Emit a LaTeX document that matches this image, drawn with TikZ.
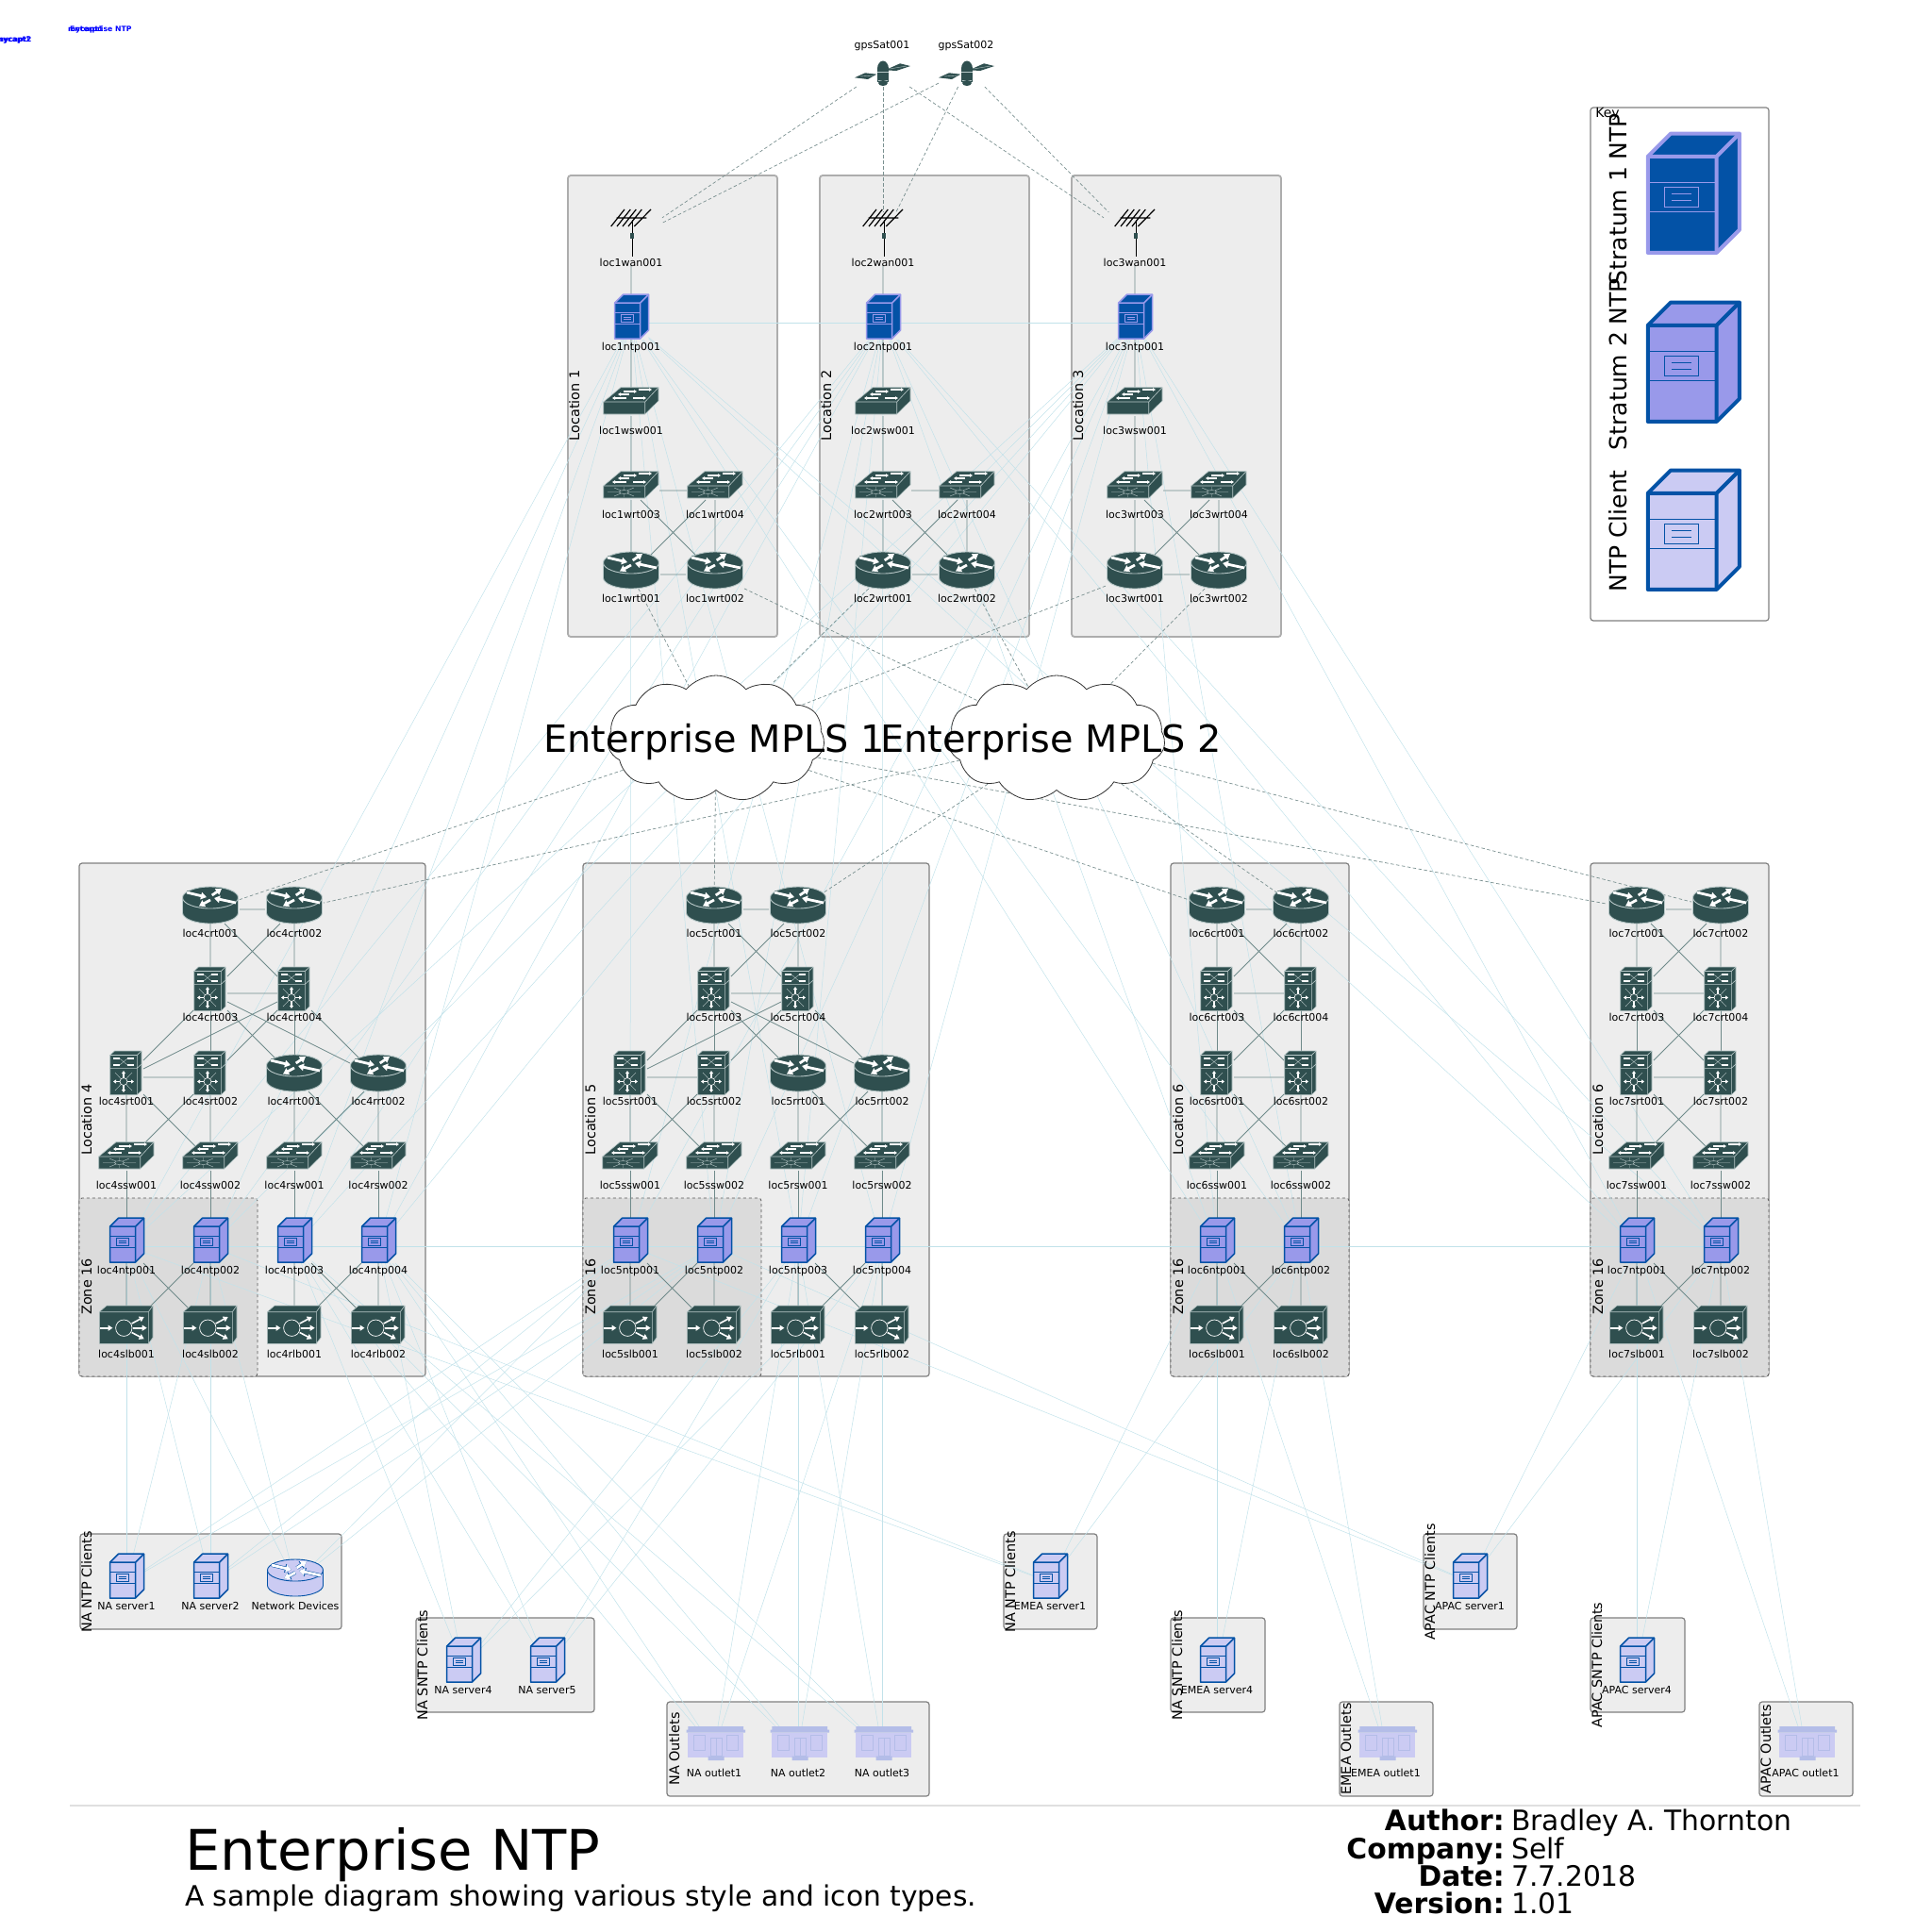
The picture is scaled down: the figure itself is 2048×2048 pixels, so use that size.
\documentclass[tikz,border=0pt]{standalone}
\usepackage{fontspec}
\setmainfont{DejaVu Sans}
\usetikzlibrary{shapes.symbols,arrows.meta}

\definecolor{devdark}{HTML}{2F4F4F}
\definecolor{devrim}{HTML}{B8C8C8}
\definecolor{ntpblue}{HTML}{0352A6}
\definecolor{ntpmid}{HTML}{9999EA}
\definecolor{ntplight}{HTML}{CBCBF3}
\definecolor{olrim}{HTML}{B4BDE8}
\definecolor{wirelan}{HTML}{6F8A8A}
\definecolor{wirewan}{HTML}{7A9090}
\definecolor{wirentp}{HTML}{C2E2EA}

\pgfdeclarelayer{boxes}
\pgfdeclarelayer{wires}
\pgfsetlayers{boxes,wires,main}

% server cabinet: fill, stroke, outer width, inner width
\newcommand{\srvbody}[4]{
\draw[fill=#1,draw=#2,line width=#3,line join=round] (-17.5,-20.8) -- (-8.5,-29.8) -- (18.5,-29.8) -- (18.5,8) -- (9.5,17) -- (-17.5,17) -- cycle;
\draw[draw=#2,line width=#3] (-17.5,-20.8) -- (9.5,-20.8) -- (9.5,17) (9.5,-20.8) -- (18.5,-29.8);
\draw[draw=#2,line width=#4] (-17.5,-10.7) -- (9.5,-10.7) (-17.5,1.1) -- (9.5,1.1) (-11,-8.7) rectangle (2.5,-1) (-8.2,-6) -- (-.4,-6) (-8.2,-3.7) -- (-.4,-3.7);
}
% router drum: fill, stroke, arrow outline
\newcommand{\rtbody}[3]{
\draw[fill=#1,draw=#2,line width=.9pt] (0,3.5) ellipse (29.5 and 11.5);
\fill[#1] (-29.5,-12.5) rectangle (29.5,3.5);
\draw[#2,line width=.9pt] (-29.5,-12.5) -- (-29.5,3.5) (29.5,-12.5) -- (29.5,3.5);
\draw[fill=#1,draw=#2,line width=.9pt] (0,-12.5) ellipse (29.5 and 11.5);
\draw[#3,line width=3.8pt,-{Triangle[length=7pt,width=9pt]}] (-25,-18) -- (-4,-13);
\draw[#3,line width=3.8pt,-{Triangle[length=7pt,width=9pt]}] (1.7,-15) -- (12,-22);
\draw[#3,line width=3.8pt,-{Triangle[length=7pt,width=9pt]}] (27,-7) -- (4,-12);
\draw[#3,line width=3.8pt,-{Triangle[length=7pt,width=9pt]}] (0,-10) -- (-12,-3.5);
\draw[white,line width=2.8pt,-{Triangle[length=6pt,width=7.5pt]}] (-25,-18) -- (-4,-13);
\draw[white,line width=2.8pt,-{Triangle[length=6pt,width=7.5pt]}] (1.7,-15) -- (12,-22);
\draw[white,line width=2.8pt,-{Triangle[length=6pt,width=7.5pt]}] (27,-7) -- (4,-12);
\draw[white,line width=2.8pt,-{Triangle[length=6pt,width=7.5pt]}] (0,-10) -- (-12,-3.5);
}
% flat switch
\newcommand{\swbody}{
\draw[fill=devdark,draw=devrim,line width=.6pt,line join=round] (-29.3,-5) -- (-11,-20.3) -- (29,-20.3) -- (29,-6) -- (14.7,8) -- (-29.3,8) -- cycle;
\draw[devrim,line width=.6pt] (-29.3,-5) -- (14.7,-5) -- (14.7,8) (14.7,-5) -- (29,-20.3);
\draw[white,line width=1.1pt,-{Triangle[length=3pt,width=3.5pt]}] (-8,-16) -- (6,-16);
\draw[white,line width=1.1pt,-{Triangle[length=3pt,width=3.5pt]}] (8,-18) -- (22,-18);
\draw[white,line width=1.1pt,-{Triangle[length=3pt,width=3.5pt]}] (-2,-13) -- (-14,-13);
\draw[white,line width=1.1pt,-{Triangle[length=3pt,width=3.5pt]}] (-5,-9) -- (-20,-9);
\draw[white,line width=1.1pt,-{Triangle[length=3pt,width=3.5pt]}] (2,-9) -- (16,-9);
}

\tikzset{
hub/.style={rectangle,inner sep=0pt,outer sep=0pt},
devlabel/.style={anchor=base,inner sep=0pt,font=\fontsize{11}{12}\selectfont},
rtbox/.style={hub,minimum width=62pt,minimum height=30pt},
odbox/.style={hub,minimum width=62pt,minimum height=30pt},
l2box/.style={hub,minimum width=60pt,minimum height=20pt},
l3box/.style={hub,minimum width=60pt,minimum height=20pt},
crbox/.style={hub,minimum width=36pt,minimum height=36pt},
lbbox/.style={hub,minimum width=58pt,minimum height=30pt},
s1box/.style={hub,minimum width=37pt,minimum height=36pt},
s2box/.style={hub,minimum width=37pt,minimum height=36pt},
clbox/.style={hub,minimum width=37pt,minimum height=36pt},
olbox/.style={hub,minimum width=60pt,minimum height=48pt},
wnbox/.style={hub,minimum width=66pt,minimum height=56pt},
stbox/.style={hub,minimum width=60pt,minimum height=38pt},
s1icon/.pic={\srvbody{ntpblue}{ntpmid}{1.5pt}{.6pt}},
s2icon/.pic={\srvbody{ntpmid}{ntpblue}{1.5pt}{.6pt}},
clicon/.pic={\srvbody{ntplight}{ntpblue}{1.5pt}{.6pt}},
s1keyicon/.pic={\srvbody{ntpblue}{ntpmid}{4pt}{1pt}},
s2keyicon/.pic={\srvbody{ntpmid}{ntpblue}{4pt}{1pt}},
clkeyicon/.pic={\srvbody{ntplight}{ntpblue}{4pt}{1pt}},
rticon/.pic={\rtbody{devdark}{devrim}{devdark}},
odicon/.pic={\rtbody{ntplight}{ntpblue}{ntpblue}},
l2icon/.pic={\swbody},
l3icon/.pic={\swbody
\draw[devrim,line width=.4pt] (-25,1.5) -- (10,1.5) (-18,-3) -- (3,6) (-18,6) -- (3,-3) (-7.5,-4) -- (-7.5,7);
\draw[fill=devdark,draw=devrim,line width=.4pt] (-7.5,1.5) ellipse (5 and 2);},
cricon/.pic={
\draw[fill=devdark,draw=devrim,line width=.6pt,line join=round] (-17.3,-23.5) -- (-12.6,-28) -- (16,-28) -- (16,14) -- (11.3,18.6) -- (-17.3,18.6) -- cycle;
\draw[devrim,line width=.6pt] (-17.3,-23.5) -- (11.3,-23.5) -- (11.3,18.6) (11.3,-23.5) -- (16,-28) (-17.3,-9.7) -- (11.3,-9.7) (16,-14) -- (11.3,-9.7);
\draw[white,line width=1.2pt] (-14,-20) -- (-7,-20) (1,-20) -- (8,-20) (-14,-13) -- (-7,-13) (1,-13) -- (8,-13);
\draw[devrim,line width=.4pt] (-7,-20) -- (1,-13) (-7,-13) -- (1,-20);
\draw[white,line width=1.1pt,{Triangle[length=3pt,width=4pt]}-{Triangle[length=3pt,width=4pt]}] (-14,4.5) -- (8,4.5);
\draw[white,line width=1.1pt,{Triangle[length=3pt,width=4pt]}-{Triangle[length=3pt,width=4pt]}] (-3,-7) -- (-3,16);
\draw[devrim,line width=.4pt] (-12,-5) -- (6,14) (-12,14) -- (6,-5);
\draw[fill=devdark,draw=white,line width=.6pt] (-3,4.5) circle (4);},
lbicon/.pic={
\draw[fill=devdark,draw=devrim,line width=.6pt,line join=round] (-28.7,-19.3) -- (-21,-26) -- (28,-26) -- (28,8) -- (23.3,14.3) -- (-28.7,14.3) -- cycle;
\draw[devrim,line width=.6pt] (-28.7,-19.3) -- (23.3,-19.3) -- (23.3,14.3) (23.3,-19.3) -- (28,-26);
\draw[white,line width=.7pt] (-2.7,-2.3) circle (8.7);
\draw[white,line width=1.6pt,-{Triangle[length=5pt,width=6pt]}] (-27.7,-2.3) -- (-14.5,-2.3);
\draw[white,line width=1.6pt,-{Triangle[length=5pt,width=6pt]}] (5.7,-7) -- (18.7,-14);
\draw[white,line width=1.6pt,-{Triangle[length=5pt,width=6pt]}] (6.8,-2.3) -- (21.7,-2.3);
\draw[white,line width=1.6pt,-{Triangle[length=5pt,width=6pt]}] (5.7,2.5) -- (18.7,9.3);},
olicon/.pic={
\fill[ntplight] (-27.7,-17.3) rectangle (31,8.7);
\fill[olrim] (-27.7,-24) rectangle (31,-20.5) (-29.5,-20.5) rectangle (33,-17.3) (-6.3,7.7) rectangle (10.7,12);
\draw[olrim,line width=.7pt] (-22,-14.7) rectangle (-9.7,1) (13,-14.7) rectangle (25.3,1) (-3.7,-11.7) rectangle (8,7.7) (2.2,-11.7) -- (2.2,7.7);},
wnicon/.pic={
\draw[black,line width=1.6pt] (1.3,-20) -- (1.3,18.7);
\fill[devdark] (-.7,-6) rectangle (3.3,0);
\draw[black,line width=1.2pt] (-15.3,-22) -- (16.3,-22) (-21.3,-13) -- (-7,-31) (-15,-13) -- (-.7,-31) (-9,-13) -- (5.3,-31) (-3,-13) -- (11.3,-31) (3.3,-13) -- (21,-31);},
sticon/.pic={
\fill[devdark] (-30,9.3) -- (-19,4.3) -- (-6.7,5.7) -- (-16,11) -- cycle (2.3,1.3) -- (18,-5.7) -- (29,-3) -- (14,2) -- cycle;
\draw[devrim,line width=.4pt] (-24,8) -- (-10,7) (7,0) -- (25,-3);
\fill[devdark] (0,0) ellipse (6 and 8.5);
\fill[devdark] (-6,0) rectangle (6,14);
\draw[devrim,line width=.7pt] (-6,3) -- (6,3) (-5,12) -- (5,12);
\fill[devdark] (0,15) ellipse (5 and 3);},
lan/.style={draw=wirelan,line width=.8pt},
wan/.style={draw=wirewan,line width=.7pt,dash pattern=on 3.5pt off 2.5pt},
ntp/.style={draw=wirentp,line width=.5pt},
topbox/.style={draw=black!32,fill=black!7,line width=1.8pt,rounded corners=3pt},
locbox/.style={draw=black!50,fill=black!7,line width=1.2pt,rounded corners=3pt},
zonebox/.style={draw=black!65,fill=black!14,line width=.8pt,dashed,rounded corners=3pt},
keybox/.style={draw=black!50,fill=white,line width=1.2pt,rounded corners=3pt},
boxtitle/.style={rotate=90,anchor=base,inner sep=0pt,font=\fontsize{14.4}{16}\selectfont},
keytext/.style={rotate=90,anchor=base,inner sep=0pt,font=\fontsize{25}{30}\selectfont},
mplscloud/.style={cloud,cloud puffs=11,cloud puff arc=100,aspect=1.67,draw=black!80,fill=white,line width=.8pt,minimum width=230pt,minimum height=134pt,inner sep=0pt},
mplstext/.style={inner sep=0pt,font=\fontsize{39.8}{44}\selectfont},
capt/.style={anchor=base west,inner sep=0pt,text=blue,font=\fontsize{7.7}{9}\selectfont\bfseries},
infohead/.style={anchor=base east,inner sep=0pt,font=\fontsize{29.8}{32}\selectfont\bfseries},
infotext/.style={anchor=base west,inner sep=0pt,font=\fontsize{29.8}{32}\selectfont},
}

% icon kind, node name, x, y, printed text
\newcommand{\devtext}[5]{
\node[#1box] (#2) at (#3,#4) {};
\pic at (#2) {#1icon};
\node[devlabel] (#2txt) at ([yshift=-29.5pt]#2.center) {#5};
}
\newcommand{\device}[4]{\devtext{#1}{#2}{#3}{#4}{#2}}

\begin{document}
\begin{tikzpicture}[x=1pt,y=-1pt]
\useasboundingbox (0,0) rectangle (2048,2048);

\begin{pgfonlayer}{boxes}
\draw[topbox] (602,186) rectangle (824,675);
\draw[topbox] (869,186) rectangle (1091,675);
\draw[topbox] (1136,186) rectangle (1358,675);
\draw[locbox] (84,915) rectangle (451,1459);
\draw[locbox] (618,915) rectangle (985,1459);
\draw[locbox] (1241,915) rectangle (1430,1459);
\draw[locbox] (1686,915) rectangle (1875,1459);
\draw[zonebox] (84,1270) rectangle (273,1459);
\draw[zonebox] (618,1270) rectangle (807,1459);
\draw[zonebox] (1241,1270) rectangle (1430,1459);
\draw[zonebox] (1686,1270) rectangle (1875,1459);
\draw[locbox] (85,1626) rectangle (362,1727);
\draw[locbox] (441,1715) rectangle (630,1815);
\draw[locbox] (707,1804) rectangle (985,1904);
\draw[locbox] (1064,1626) rectangle (1163,1727);
\draw[locbox] (1241,1715) rectangle (1341,1815);
\draw[locbox] (1420,1804) rectangle (1519,1904);
\draw[locbox] (1509,1626) rectangle (1608,1727);
\draw[locbox] (1686,1715) rectangle (1786,1815);
\draw[locbox] (1865,1804) rectangle (1964,1904);
\draw[keybox] (1686,114) rectangle (1875,658);
\draw[draw=black!12,line width=1.5pt] (74,1914) -- (1972,1914);
\end{pgfonlayer}

\node[capt] (capt1) at (72,33) {mycapt1};
\node[capt] (capt2) at (74,33) {Enterprise NTP};
\node[capt] (capt3) at (-5,44) {mycapt1};
\node[capt] (capt4) at (-4,44) {mycapt2};

\node[stbox] (gpsSat001) at (936,73) {};
\pic at (gpsSat001) {sticon};
\node[devlabel] (gpsSat001txt) at (935,51) {gpsSat001};
\node[stbox] (gpsSat002) at (1025,73) {};
\pic at (gpsSat002) {sticon};
\node[devlabel] (gpsSat002txt) at (1024,51) {gpsSat002};

\device{wn}{loc1wan001}{669}{253}
\device{s1}{loc1ntp001}{669}{342}
\device{l2}{loc1wsw001}{669}{431}
\device{l3}{loc1wrt003}{669}{520}
\device{l3}{loc1wrt004}{758}{520}
\device{rt}{loc1wrt001}{669}{609}
\device{rt}{loc1wrt002}{758}{609}

\device{wn}{loc2wan001}{936}{253}
\device{s1}{loc2ntp001}{936}{342}
\device{l2}{loc2wsw001}{936}{431}
\device{l3}{loc2wrt003}{936}{520}
\device{l3}{loc2wrt004}{1025}{520}
\device{rt}{loc2wrt001}{936}{609}
\device{rt}{loc2wrt002}{1025}{609}

\device{wn}{loc3wan001}{1203}{253}
\device{s1}{loc3ntp001}{1203}{342}
\device{l2}{loc3wsw001}{1203}{431}
\device{l3}{loc3wrt003}{1203}{520}
\device{l3}{loc3wrt004}{1292}{520}
\device{rt}{loc3wrt001}{1203}{609}
\device{rt}{loc3wrt002}{1292}{609}

\node[mplscloud] (mpls1) at (759,783) {};
\node[mplstext] (mpls1txt) at (757,787) {Enterprise MPLS 1};
\node[mplscloud] (mpls2) at (1120,783) {};
\node[mplstext] (mpls2txt) at (1114,787) {Enterprise MPLS 2};

\device{rt}{loc4crt001}{223}{964}
\device{rt}{loc4crt002}{312}{964}
\device{cr}{loc4crt003}{223}{1053}
\device{cr}{loc4crt004}{312}{1053}
\device{cr}{loc4srt001}{134}{1142}
\device{cr}{loc4srt002}{223}{1142}
\device{rt}{loc4rrt001}{312}{1142}
\device{rt}{loc4rrt002}{401}{1142}
\device{l3}{loc4ssw001}{134}{1231}
\device{l3}{loc4ssw002}{223}{1231}
\device{l3}{loc4rsw001}{312}{1231}
\device{l3}{loc4rsw002}{401}{1231}
\device{s2}{loc4ntp001}{134}{1321}
\device{s2}{loc4ntp002}{223}{1321}
\device{s2}{loc4ntp003}{312}{1321}
\device{s2}{loc4ntp004}{401}{1321}
\device{lb}{loc4slb001}{134}{1410}
\device{lb}{loc4slb002}{223}{1410}
\device{lb}{loc4rlb001}{312}{1410}
\device{lb}{loc4rlb002}{401}{1410}

\device{rt}{loc5crt001}{757}{964}
\device{rt}{loc5crt002}{846}{964}
\device{cr}{loc5crt003}{757}{1053}
\device{cr}{loc5crt004}{846}{1053}
\device{cr}{loc5srt001}{668}{1142}
\device{cr}{loc5srt002}{757}{1142}
\device{rt}{loc5rrt001}{846}{1142}
\device{rt}{loc5rrt002}{935}{1142}
\device{l3}{loc5ssw001}{668}{1231}
\device{l3}{loc5ssw002}{757}{1231}
\device{l3}{loc5rsw001}{846}{1231}
\device{l3}{loc5rsw002}{935}{1231}
\device{s2}{loc5ntp001}{668}{1321}
\device{s2}{loc5ntp002}{757}{1321}
\device{s2}{loc5ntp003}{846}{1321}
\device{s2}{loc5ntp004}{935}{1321}
\device{lb}{loc5slb001}{668}{1410}
\device{lb}{loc5slb002}{757}{1410}
\device{lb}{loc5rlb001}{846}{1410}
\device{lb}{loc5rlb002}{935}{1410}

\device{rt}{loc6crt001}{1290}{964}
\device{rt}{loc6crt002}{1379}{964}
\device{cr}{loc6crt003}{1290}{1053}
\device{cr}{loc6crt004}{1379}{1053}
\device{cr}{loc6srt001}{1290}{1142}
\device{cr}{loc6srt002}{1379}{1142}
\device{l3}{loc6ssw001}{1290}{1231}
\device{l3}{loc6ssw002}{1379}{1231}
\device{s2}{loc6ntp001}{1290}{1321}
\device{s2}{loc6ntp002}{1379}{1321}
\device{lb}{loc6slb001}{1290}{1410}
\device{lb}{loc6slb002}{1379}{1410}

\device{rt}{loc7crt001}{1735}{964}
\device{rt}{loc7crt002}{1824}{964}
\device{cr}{loc7crt003}{1735}{1053}
\device{cr}{loc7crt004}{1824}{1053}
\device{cr}{loc7srt001}{1735}{1142}
\device{cr}{loc7srt002}{1824}{1142}
\device{l3}{loc7ssw001}{1735}{1231}
\device{l3}{loc7ssw002}{1824}{1231}
\device{s2}{loc7ntp001}{1735}{1321}
\device{s2}{loc7ntp002}{1824}{1321}
\device{lb}{loc7slb001}{1735}{1410}
\device{lb}{loc7slb002}{1824}{1410}

\devtext{cl}{nasrv1}{134}{1677}{NA server1}
\devtext{cl}{nasrv2}{223}{1677}{NA server2}
\devtext{od}{nadev}{313}{1677}{Network Devices}
\devtext{cl}{nasrv4}{491}{1766}{NA server4}
\devtext{cl}{nasrv5}{580}{1766}{NA server5}
\devtext{ol}{naout1}{757}{1854}{NA outlet1}
\devtext{ol}{naout2}{846}{1854}{NA outlet2}
\devtext{ol}{naout3}{935}{1854}{NA outlet3}
\devtext{cl}{emsrv1}{1113}{1677}{EMEA server1}
\devtext{cl}{emsrv4}{1290}{1766}{EMEA server4}
\devtext{ol}{emout1}{1469}{1854}{EMEA outlet1}
\devtext{cl}{apsrv1}{1558}{1677}{APAC server1}
\devtext{cl}{apsrv4}{1735}{1766}{APAC server4}
\devtext{ol}{apout1}{1914}{1854}{APAC outlet1}

\begin{pgfonlayer}{wires}
\draw[ntp] (loc1ntp001) -- (loc2ntp001) -- (loc3ntp001);
\draw[ntp,line width=.8pt] (loc4ntp001) -- (loc4ntp002) -- (loc4ntp003) -- (loc4ntp004) -- (loc5ntp001) -- (loc5ntp002) -- (loc5ntp003) -- (loc5ntp004) -- (loc6ntp001) -- (loc6ntp002) -- (loc7ntp001) -- (loc7ntp002);
\draw[ntp] (loc1ntp001) edge (loc4ntp001) edge (loc4ntp002) edge (loc4ntp003) edge (loc4ntp004) edge (loc5ntp001) edge (loc5ntp002) edge (loc5ntp003) edge (loc5ntp004) edge (loc6ntp001) edge (loc6ntp002) edge (loc7ntp001) edge (loc7ntp002);
\draw[ntp] (loc2ntp001) edge (loc4ntp001) edge (loc4ntp002) edge (loc4ntp003) edge (loc4ntp004) edge (loc5ntp001) edge (loc5ntp002) edge (loc5ntp003) edge (loc5ntp004) edge (loc6ntp001) edge (loc6ntp002) edge (loc7ntp001) edge (loc7ntp002);
\draw[ntp] (loc3ntp001) edge (loc4ntp001) edge (loc4ntp002) edge (loc4ntp003) edge (loc4ntp004) edge (loc5ntp001) edge (loc5ntp002) edge (loc5ntp003) edge (loc5ntp004) edge (loc6ntp001) edge (loc6ntp002) edge (loc7ntp001) edge (loc7ntp002);

\draw[ntp] (loc4ntp001) edge (nasrv1) edge (nasrv2) edge (nadev) edge (emsrv1);
\draw[ntp] (loc4ntp002) edge (nasrv1) edge (nasrv2) edge (nadev) edge (emsrv1);
\draw[ntp] (loc5ntp001) edge (nasrv1) edge (nasrv2) edge (nadev) edge (apsrv1);
\draw[ntp] (loc5ntp002) edge (nasrv1) edge (nasrv2) edge (nadev) edge (apsrv1);
\draw[ntp] (loc4ntp003) edge (nasrv4) edge (nasrv5) edge (naout1) edge (naout2) edge (naout3);
\draw[ntp] (loc4ntp004) edge (nasrv4) edge (nasrv5) edge (naout1) edge (naout2) edge (naout3);
\draw[ntp] (loc5ntp003) edge (nasrv4) edge (nasrv5) edge (naout1) edge (naout2) edge (naout3);
\draw[ntp] (loc5ntp004) edge (nasrv4) edge (nasrv5) edge (naout1) edge (naout2) edge (naout3);
\draw[ntp] (loc6ntp001) edge (emsrv1) edge (emsrv4) edge (emout1);
\draw[ntp] (loc6ntp002) edge (emsrv1) edge (emsrv4) edge (emout1);
\draw[ntp] (loc7ntp001) edge (apsrv1) edge (apsrv4) edge (apout1);
\draw[ntp] (loc7ntp002) edge (apsrv1) edge (apsrv4) edge (apout1);

\draw[wan] (gpsSat001) edge (loc1wan001) edge (loc2wan001) edge (loc3wan001);
\draw[wan] (gpsSat002) edge (loc1wan001) edge (loc2wan001) edge (loc3wan001);
\draw[wan] (loc1wrt001) -- (mpls1) (loc2wrt001) -- (mpls1) (loc3wrt001) -- (mpls1);
\draw[wan] (loc1wrt002) -- (mpls2) (loc2wrt002) -- (mpls2) (loc3wrt002) -- (mpls2);
\draw[wan] (mpls1) edge (loc4crt001) edge (loc5crt001) edge (loc6crt001) edge (loc7crt001);
\draw[wan] (mpls2) edge (loc4crt002) edge (loc5crt002) edge (loc6crt002) edge (loc7crt002);

\draw[lan] (loc1wan001) -- (loc1ntp001) -- (loc1wsw001) -- (loc1wrt003) -- (loc1wrt004) -- (loc1wrt002) -- (loc1wrt001) -- (loc1wrt003) -- (loc1wrt002) (loc1wrt004) -- (loc1wrt001);
\draw[lan] (loc2wan001) -- (loc2ntp001) -- (loc2wsw001) -- (loc2wrt003) -- (loc2wrt004) -- (loc2wrt002) -- (loc2wrt001) -- (loc2wrt003) -- (loc2wrt002) (loc2wrt004) -- (loc2wrt001);
\draw[lan] (loc3wan001) -- (loc3ntp001) -- (loc3wsw001) -- (loc3wrt003) -- (loc3wrt004) -- (loc3wrt002) -- (loc3wrt001) -- (loc3wrt003) -- (loc3wrt002) (loc3wrt004) -- (loc3wrt001);

\draw[lan] (loc4crt001) -- (loc4crt002) -- (loc4crt004) -- (loc4crt003) -- (loc4crt001) -- (loc4crt004) (loc4crt002) -- (loc4crt003);
\draw[lan] (loc4crt003) edge (loc4srt001) edge (loc4srt002) edge (loc4rrt001) edge (loc4rrt002);
\draw[lan] (loc4crt004) edge (loc4srt001) edge (loc4srt002) edge (loc4rrt001) edge (loc4rrt002);
\draw[lan] (loc4srt001) -- (loc4srt002) -- (loc4ssw001) -- (loc4srt001) -- (loc4ssw002) -- (loc4srt002);
\draw[lan] (loc4rrt001) -- (loc4rsw001) -- (loc4rrt002) -- (loc4rsw002) -- (loc4rrt001);
\draw[lan] (loc4ssw001) -- (loc4ntp001) (loc4ssw002) -- (loc4ntp002) (loc4rsw001) -- (loc4ntp003) (loc4rsw002) -- (loc4ntp004);
\draw[lan] (loc4ntp001) -- (loc4slb001) -- (loc4ntp002) -- (loc4slb002) -- (loc4ntp001);
\draw[lan] (loc4ntp003) -- (loc4rlb001) -- (loc4ntp004) -- (loc4rlb002) -- (loc4ntp003);

\draw[lan] (loc5crt001) -- (loc5crt002) -- (loc5crt004) -- (loc5crt003) -- (loc5crt001) -- (loc5crt004) (loc5crt002) -- (loc5crt003);
\draw[lan] (loc5crt003) edge (loc5srt001) edge (loc5srt002) edge (loc5rrt001) edge (loc5rrt002);
\draw[lan] (loc5crt004) edge (loc5srt001) edge (loc5srt002) edge (loc5rrt001) edge (loc5rrt002);
\draw[lan] (loc5srt001) -- (loc5srt002) -- (loc5ssw001) -- (loc5srt001) -- (loc5ssw002) -- (loc5srt002);
\draw[lan] (loc5rrt001) -- (loc5rsw001) -- (loc5rrt002) -- (loc5rsw002) -- (loc5rrt001);
\draw[lan] (loc5ssw001) -- (loc5ntp001) (loc5ssw002) -- (loc5ntp002) (loc5rsw001) -- (loc5ntp003) (loc5rsw002) -- (loc5ntp004);
\draw[lan] (loc5ntp001) -- (loc5slb001) -- (loc5ntp002) -- (loc5slb002) -- (loc5ntp001);
\draw[lan] (loc5ntp003) -- (loc5rlb001) -- (loc5ntp004) -- (loc5rlb002) -- (loc5ntp003);

\draw[lan] (loc6crt001) -- (loc6crt002) -- (loc6crt004) -- (loc6crt003) -- (loc6crt001) -- (loc6crt004) (loc6crt002) -- (loc6crt003);
\draw[lan] (loc6crt003) edge (loc6srt001) edge (loc6srt002);
\draw[lan] (loc6crt004) edge (loc6srt001) edge (loc6srt002);
\draw[lan] (loc6srt001) -- (loc6srt002) -- (loc6ssw001) -- (loc6srt001) -- (loc6ssw002) -- (loc6srt002);
\draw[lan] (loc6ssw001) -- (loc6ntp001) (loc6ssw002) -- (loc6ntp002);
\draw[lan] (loc6ntp001) -- (loc6slb001) -- (loc6ntp002) -- (loc6slb002) -- (loc6ntp001);

\draw[lan] (loc7crt001) -- (loc7crt002) -- (loc7crt004) -- (loc7crt003) -- (loc7crt001) -- (loc7crt004) (loc7crt002) -- (loc7crt003);
\draw[lan] (loc7crt003) edge (loc7srt001) edge (loc7srt002);
\draw[lan] (loc7crt004) edge (loc7srt001) edge (loc7srt002);
\draw[lan] (loc7srt001) -- (loc7srt002) -- (loc7ssw001) -- (loc7srt001) -- (loc7ssw002) -- (loc7srt002);
\draw[lan] (loc7ssw001) -- (loc7ntp001) (loc7ssw002) -- (loc7ntp002);
\draw[lan] (loc7ntp001) -- (loc7slb001) -- (loc7ntp002) -- (loc7slb002) -- (loc7ntp001);
\end{pgfonlayer}

\node[boxtitle] (loc1title) at (614,430) {Location 1};
\node[boxtitle] (loc2title) at (881,430) {Location 2};
\node[boxtitle] (loc3title) at (1148,430) {Location 3};
\node[boxtitle] (loc4title) at (97,1187) {Location 4};
\node[boxtitle] (loc5title) at (631,1187) {Location 5};
\node[boxtitle] (loc6title) at (1254,1187) {Location 6};
\node[boxtitle] (loc7title) at (1699,1187) {Location 6};
\node[boxtitle] (zone4title) at (97,1364) {Zone 16};
\node[boxtitle] (zone5title) at (631,1364) {Zone 16};
\node[boxtitle] (zone6title) at (1254,1364) {Zone 16};
\node[boxtitle] (zone7title) at (1699,1364) {Zone 16};
\node[boxtitle] (nantptitle) at (97,1677) {NA NTP Clients};
\node[boxtitle] (nasntptitle) at (453,1765) {NA SNTP Clients};
\node[boxtitle] (naouttitle) at (720,1854) {NA Outlets};
\node[boxtitle] (emntptitle) at (1076,1677) {NA NTP Clients};
\node[boxtitle] (emsntptitle) at (1253,1765) {NA SNTP Clients};
\node[boxtitle] (emouttitle) at (1432,1854) {EMEA Outlets};
\node[boxtitle] (apntptitle) at (1521,1677) {APAC NTP Clients};
\node[boxtitle] (apsntptitle) at (1698,1765) {APAC SNTP Clients};
\node[boxtitle] (apouttitle) at (1877,1854) {APAC Outlets};

\node[hub] (keyS1) at (1794,222) {};
\pic[scale=2.7] at (keyS1) {s1keyicon};
\node[hub] (keyS2) at (1794,401) {};
\pic[scale=2.7] at (keyS2) {s2keyicon};
\node[hub] (keyCl) at (1794,579) {};
\pic[scale=2.7] at (keyCl) {clkeyicon};
\node[inner sep=0pt,font=\fontsize{14}{16}\selectfont] (keytitle) at (1704,121) {Key};
\node[keytext] (keyS1txt) at (1724,211) {Stratum 1 NTP};
\node[keytext] (keyS2txt) at (1724,386) {Stratum 2 NTP};
\node[keytext] (keyCltxt) at (1724,563) {NTP Client};

\node[anchor=base west,inner sep=0pt,font=\fontsize{59.3}{62}\selectfont] (title) at (196,1982) {Enterprise NTP};
\node[anchor=base west,inner sep=0pt,font=\fontsize{29.7}{32}\selectfont] (subtitle) at (196,2020) {A sample diagram showing various style and icon types.};
\node[infohead] (authorhd) at (1595,1940) {Author:};
\node[infotext] (authortxt) at (1602,1940) {Bradley A. Thornton};
\node[infohead] (companyhd) at (1595,1970) {Company:};
\node[infotext] (companytxt) at (1602,1970) {Self};
\node[infohead] (datehd) at (1595,1999) {Date:};
\node[infotext] (datetxt) at (1602,1999) {7.7.2018};
\node[infohead] (versionhd) at (1595,2028) {Version:};
\node[infotext] (versiontxt) at (1602,2028) {1.01};
\end{tikzpicture}
\end{document}
